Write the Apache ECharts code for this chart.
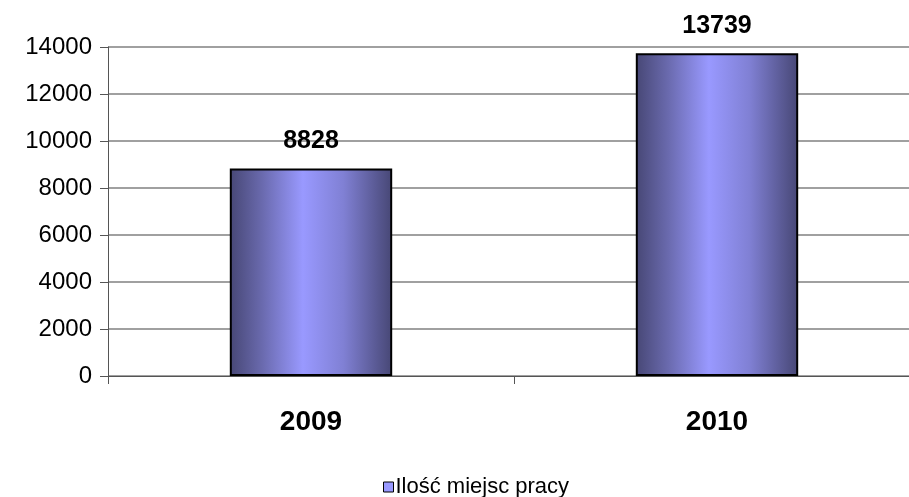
<!DOCTYPE html>
<html><head><meta charset="utf-8">
<script src="https://cdn.jsdelivr.net/npm/echarts@6/dist/echarts.min.js"></script>
<style>html,body{margin:0;padding:0;background:#fff;overflow:hidden}#c{width:920px;height:497px}</style>
</head><body><div id="c"></div>
<script>
const categories = ['2009', '2010'];
const values = [8828, 13739];
const seriesName = 'Ilość miejsc pracy';
const yTicks = {min: 0, max: 14000, interval: 2000};

const grad = new echarts.graphic.LinearGradient(0, 0, 1, 0, [
  {offset: 0, color: '#474775'},
  {offset: 0.2, color: '#6a6aae'},
  {offset: 0.45, color: '#9999ff'},
  {offset: 0.7, color: '#8080d4'},
  {offset: 1, color: '#474775'}
]);
const chart = echarts.init(document.getElementById('c'));
chart.setOption({
  animation: false,
  textStyle: {fontFamily: 'Liberation Sans, Arial, sans-serif'},
  grid: {left: 108, right: 0, top: 47, height: 329},
  legend: {
    bottom: -6, left: 378, itemWidth: 10, itemHeight: 10, itemGap: 2,
    icon: 'rect',
    textStyle: {fontSize: 22, color: '#000', fontFamily: 'Liberation Sans, Arial, sans-serif', padding: [0,0,0,-3]},
    data: [{name: seriesName, itemStyle: {color: '#9999ff', borderColor: '#000', borderWidth: 1}}]
  },
  xAxis: {
    type: 'category', data: categories,
    axisLine: {lineStyle: {color: '#555', width: 1}},
    axisTick: {show: true, length: 8, lineStyle: {color: '#555'}},
    axisLabel: {fontSize: 28, fontWeight: 'bold', color: '#000', margin: 32}
  },
  yAxis: {
    type: 'value', min: yTicks.min, max: yTicks.max, interval: yTicks.interval,
    axisLine: {show: true, lineStyle: {color: '#555'}},
    axisTick: {show: true, length: 8, lineStyle: {color: '#555'}},
    axisLabel: {fontSize: 24, color: '#000', margin: 16, formatter: v => String(v)},
    splitLine: {lineStyle: {color: '#a0a0a0', width: 2}}
  },
  series: [{
    type: 'bar', name: seriesName, data: values, barWidth: '40%',
    itemStyle: {color: grad, borderColor: '#000', borderWidth: 2},
    label: {show: true, position: 'top', distance: 15, fontSize: 25, fontWeight: 'bold', color: '#000'}
  }]
});
</script></body></html>
